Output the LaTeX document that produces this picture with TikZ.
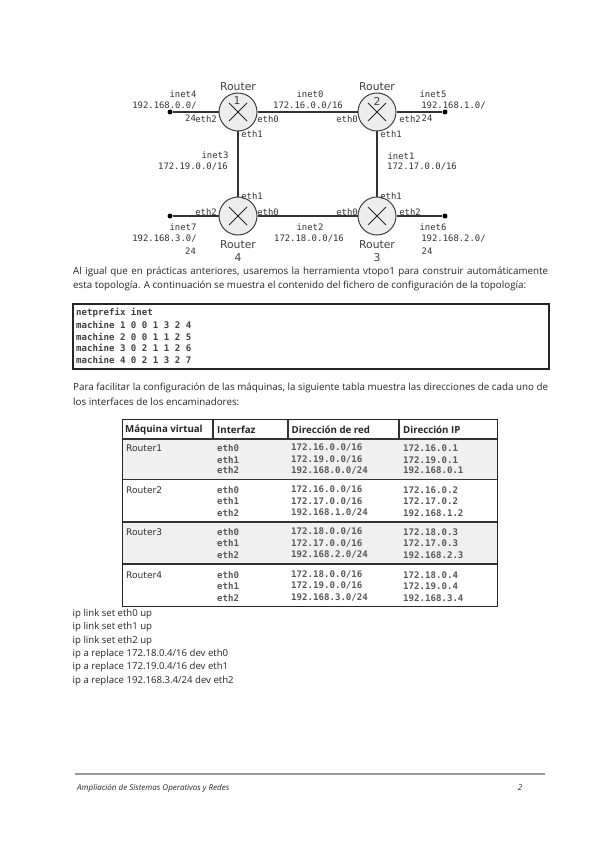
\documentclass[tikz,border=0pt]{standalone}
\usepackage{fontspec}
\setmainfont{Open Sans}
\newfontfamily\labelfont{DejaVu Sans}
\newfontfamily\monofont{DejaVu Sans Mono}
\newcommand{\fullline}[1]{\hbox to 475pt{#1}}
\usetikzlibrary{positioning}
\tikzset{
  router/.style={circle, draw=black!75, fill=black!7, line width=1pt, minimum size=38pt, inner sep=0pt,
    path picture={
      \draw[black!85, line width=1pt] ([shift={(-9,-9)}]path picture bounding box.center) -- ([shift={(9,9)}]path picture bounding box.center);
      \draw[black!85, line width=1pt] ([shift={(-9,9)}]path picture bounding box.center) -- ([shift={(9,-9)}]path picture bounding box.center);
    }},
  stub/.style={circle, fill=black, minimum size=5pt, inner sep=0pt},
  link/.style={draw=black!80, line width=1.6pt},
  netlbl/.style={font=\monofont\fontsize{8.9}{10}\selectfont, text=black!80, inner sep=0pt},
  rtrlbl/.style={font=\labelfont\fontsize{10.8}{12}\selectfont, text=black!75, inner sep=0pt},
  para/.style={font=\fontsize{9.8}{11}\selectfont, text=black!85, anchor=west, inner sep=0pt},
  codeline/.style={font=\monofont\bfseries\fontsize{9.1}{11}\selectfont, text=black!75, anchor=west, inner sep=0pt},
  cmdline/.style={font=\fontsize{9.6}{11}\selectfont, text=black!85, anchor=west, inner sep=0pt},
  thead/.style={font=\bfseries\fontsize{9.7}{11}\selectfont, text=black!85, anchor=west, inner sep=0pt},
  tcell/.style={font=\monofont\bfseries\fontsize{9.1}{11}\selectfont, text=black!65, anchor=west, inner sep=0pt},
  tname/.style={font=\labelfont\fontsize{9.1}{10}\selectfont, text=black!80, anchor=west, inner sep=0pt},
  frame/.style={draw=black!85, line width=1.2pt},
  rowline/.style={draw=black!80, line width=1.1pt}
}
\begin{document}
\begin{tikzpicture}[x=1pt, y=-1pt]
  \useasboundingbox[fill=white] (0,0) rectangle (600,848);

  % routers
  \node[router] (r1) at (238,112) {};
  \node[router] (r2) at (377,112) {};
  \node[router] (r3) at (377,216) {};
  \node[router] (r4) at (238,216) {};
  \node[stub] (s4) at (170,112) {};
  \node[stub] (s5) at (445,112) {};
  \node[stub] (s6) at (445,216) {};
  \node[stub] (s7) at (170,216) {};
  \draw[link] (r1) -- (r2);
  \draw[link] (r2) -- (r3);
  \draw[link] (r3) -- (r4);
  \draw[link] (r4) -- (r1);
  \draw[link] (s4) -- (r1);
  \draw[link] (r2) -- (s5);
  \draw[link] (r3) -- (s6);
  \draw[link] (s7) -- (r4);

  % router names
  \foreach \n/\x/\y/\t in {a/238/87/Router,b/237/101/1,c/377/87/Router,d/377/101/2,e/238/245/Router,f/238/258/4,g/377/245/Router,h/377/258/3} {
    \node[rtrlbl] (rn\n) at (\x,\y) {\t};
  }
  % network labels
  \foreach \n/\x/\y/\t in {
    a/183/94/inet4, b/164.5/106/{192.168.0.0/}, c/190.5/118/24,
    d/310/94/inet0, e/308/106/{172.16.0.0/16},
    f/433/94/inet5, g/453.5/106/{192.168.1.0/}, h/427/118/24,
    i/215/155/inet3, j/193/167/{172.19.0.0/16},
    k/401/156/inet1, l/422/167/{172.17.0.0/16},
    m/183/227/inet7, n/164.5/239/{192.168.3.0/}, o/190.5/251/24,
    p/310/227/inet2, q/309/239/{172.18.0.0/16},
    r/433/227/inet6, s/453.5/239/{192.168.2.0/}, t/427/251/24} {
    \node[netlbl] (nl\n) at (\x,\y) {\t};
  }
  % interface labels
  \foreach \n/\x/\y/\t in {
    a/206/119/eth2, b/268/119/eth0, c/252/134/eth1,
    d/347/119/eth0, e/410/119/eth2, f/391/134/eth1,
    g/206/212/eth2, h/268/212/eth0, i/252/196/eth1,
    j/347/212/eth0, k/410/212/eth2, l/391/196/eth1} {
    \node[netlbl] (if\n) at (\x,\y) {\t};
  }

  % text above the box
  \node[para] (pa) at (73,272) {\fullline{Al igual que en prácticas anteriores, usaremos la herramienta vtopo1 para construir automáticamente}};
  \node[para] (pb) at (73,286) {esta topología. A continuación se muestra el contenido del fichero de configuración de la topología:};

  \node[frame, minimum width=476pt, minimum height=65pt, inner sep=0pt] (codebox) at (311,336.5) {};
  \foreach \n/\y/\t in {a/313/netprefix inet,b/325/machine 1 0 0 1 3 2 4,c/336.5/machine 2 0 0 1 1 2 5,d/348/machine 3 0 2 1 1 2 6,e/360/machine 4 0 2 1 3 2 7} {
    \node[codeline] (code\n) at (76,\y) {\t};
  }

  \node[para] (pc) at (73,388) {\fullline{Para facilitar la configuración de las máquinas, la siguiente tabla muestra las direcciones de cada uno de}};
  \node[para] (pd) at (73,402) {los interfaces de los encaminadores:};

  % table
  \fill[black!6] (123,439) rectangle (497.5,479.5);
  \fill[black!6] (123,522) rectangle (497.5,564);
  \foreach \y in {439,479.5,522,564} {
    \draw[rowline] (122.5,\y) -- (497.5,\y);
  }
  \foreach \x in {213,288,399} {
    \draw[rowline] (\x,419.5) -- (\x,439);
  }
  \draw[frame] (122.5,419.5) rectangle (497.5,606.5);
  \node[thead] (tha) at (125,429.5) {Máquina virtual};
  \node[thead] (thb) at (217,429.5) {Interfaz};
  \node[thead] (thc) at (291.5,429.5) {Dirección de red};
  \node[thead] (thd) at (403,429.5) {Dirección IP};
  \foreach \n/\y/\t in {a/448/Router1,b/490/Router2,c/532/Router3,d/575/Router4} {
    \node[tname] (name\n) at (126,\y) {\t};
  }
  \foreach \n/\y/\e/\net/\ip in {
    a/448/eth0/{172.16.0.0/16}/172.16.0.1, b/460/eth1/{172.19.0.0/16}/172.19.0.1, c/470.5/eth2/{192.168.0.0/24}/192.168.0.1,
    d/490/eth0/{172.16.0.0/16}/172.16.0.2, e/501.5/eth1/{172.17.0.0/16}/172.17.0.2, f/513/eth2/{192.168.1.0/24}/192.168.1.2,
    g/532/eth0/{172.18.0.0/16}/172.18.0.3, h/543.5/eth1/{172.17.0.0/16}/172.17.0.3, i/555/eth2/{192.168.2.0/24}/192.168.2.3,
    j/575/eth0/{172.18.0.0/16}/172.18.0.4, k/586/eth1/{172.19.0.0/16}/172.19.0.4, l/598/eth2/{192.168.3.0/24}/192.168.3.4} {
    \node[tcell] (if\n\n) at (217,\y) {\e};
    \node[tcell] (net\n) at (291,\y) {\net};
    \node[tcell] (ip\n) at (403,\y) {\ip};
  }

  % commands
  \foreach \n/\y/\t in {a/614/ip link set eth0 up,b/627/ip link set eth1 up,c/640.5/ip link set eth2 up,d/654/{ip a replace 172.18.0.4/16 dev eth0},e/667/{ip a replace 172.19.0.4/16 dev eth1},f/680.5/{ip a replace 192.168.3.4/24 dev eth2}} {
    \node[cmdline] (cmd\n) at (72.5,\y) {\t};
  }

  % footer
  \coordinate (fl) at (75,774);
  \coordinate (fr) at (545,774);
  \draw[black!40, line width=1.4pt] (fl) -- (fr);
  \node[anchor=west, inner sep=0pt, font=\itshape\fontsize{8}{9}\selectfont, text=black!85] (foot) at (77,788) {Ampliación de Sistemas Operativos y Redes};
  \node[inner sep=0pt, font=\itshape\fontsize{8}{9}\selectfont, text=black!85] (pagenum) at (520,788) {2};
\end{tikzpicture}
\end{document}
